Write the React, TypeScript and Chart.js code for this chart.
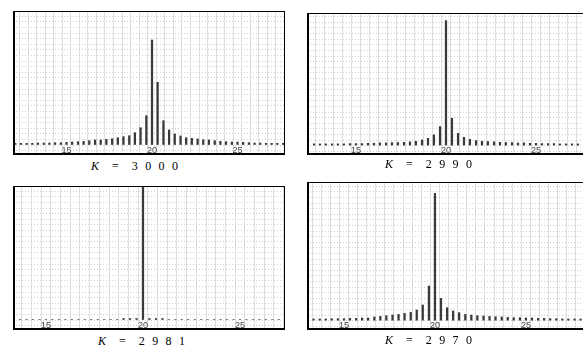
import React, { useEffect, useRef } from 'react';
import { Chart, registerables } from 'chart.js';

Chart.register(...registerables);

// harmonic positions (x axis values)
const positions = [
  12, 12.33, 12.67, 13, 13.33, 13.67, 14, 14.33, 14.67, 15, 15.33, 15.67,
  16, 16.33, 16.67, 17, 17.33, 17.67, 18, 18.33, 18.67, 19, 19.33, 19.67,
  20,
  20.33, 20.67, 21, 21.33, 21.67, 22, 22.33, 22.67, 23, 23.33, 23.67, 24,
  24.33, 24.67, 25, 25.33, 25.67, 26, 26.33, 26.67, 27, 27.33, 27.67, 28,
];

const ampK3000 = [
  1.7, 1.7, 1.7, 1.7, 2, 2, 2, 2.3, 2.3, 2.7, 3, 3.3,
  3.7, 4.3, 5, 5, 5.7, 6.3, 7.3, 8.3, 9.3, 12.3, 17.3, 29.3,
  105,
  62.7, 24.3, 15, 11, 9, 7.3, 6.7, 6, 5.3, 5, 4.3, 3.7,
  3.3, 3, 3, 2.7, 2.3, 2, 2, 1.7, 1.7, 1.7, 1.7, 1.7,
];

const ampK2990 = [
  1.7, 1.7, 1.7, 1.7, 1.7, 1.7, 1.7, 1.7, 2, 2, 2, 2.3,
  2.3, 2.7, 2.7, 3, 3, 3.3, 3.7, 4.3, 5.7, 7.3, 10.7, 19,
  125,
  27.3, 12.3, 8.3, 6.3, 5, 4.3, 4, 3.7, 3.3, 3, 3, 2.7,
  2.7, 2.3, 2.3, 2, 2, 2, 1.7, 1.7, 1.7, 1.7, 1.7, 1.7,
];

const ampK2981 = [
  0.5, 0.5, 0.5, 0.5, 0.5, 0.5, 0.5, 0.5, 0.5, 0.5, 0.5, 0.5,
  0.5, 0.5, 0.5, 0.5, 0.5, 0.5, 0.5, 0.5, 0.5, 1.5, 1.5, 1.5,
  134,
  1.5, 1.5, 1.5, 0.5, 0.5, 0.5, 0.5, 0.5, 0.5, 0.5, 0.5, 0.5,
  0.5, 0.5, 0.5, 0.5, 0.5, 0.5, 0.5, 0.5, 0.5, 0.5, 0.5, 0.5,
];

const ampK2970 = [
  1.7, 1.7, 1.7, 1.7, 1.7, 1.7, 1.7, 2, 2, 2, 2.3, 2.3,
  2.7, 2.7, 3.7, 4.3, 5, 5.7, 6.3, 7.3, 8.3, 10.7, 15.7, 34.7,
  127.3,
  22.3, 13, 9.7, 8, 6.3, 5.7, 5, 4.7, 4.3, 4, 3.7, 3.3,
  3, 3, 2.7, 2.7, 2.3, 2.3, 2, 2, 1.7, 1.7, 1.7, 1.7,
];

const tickLabels = [15, 20, 25];
const kLabels = ['3 0 0 0', '2 9 9 0', '2 9 8 1', '2 9 7 0'];

type Panel = {
  values: number[];
  k: string;
  left: number; top: number; width: number; height: number;
  xMin: number; xMax: number; yMin: number; yMax: number;
  capLeft: number; capTop: number;
};

const panels: Panel[] = [
  { values: ampK3000, k: kLabels[0], left: 13, top: 11, width: 272, height: 144, xMin: 11.87, xMax: 27.78, yMin: -10, yMax: 134, capLeft: 91, capTop: 158 },
  { values: ampK2990, k: kLabels[1], left: 307, top: 13, width: 283, height: 142, xMin: 12.28, xMax: 28.0, yMin: -9.4, yMax: 132.6, capLeft: 385, capTop: 156 },
  { values: ampK2981, k: kLabels[2], left: 13, top: 186, width: 272, height: 144, xMin: 13.3, xMax: 27.32, yMin: -10, yMax: 134, capLeft: 98, capTop: 333 },
  { values: ampK2970, k: kLabels[3], left: 307, top: 182, width: 283, height: 148, xMin: 12.97, xMax: 28.52, yMin: -9.3, yMax: 138.7, capLeft: 385, capTop: 332 },
];

const PAD = 2;

const framePlugin = {
  id: 'frame',
  afterDraw(chart: any) {
    const { ctx, chartArea: a } = chart;
    ctx.save();
    ctx.strokeStyle = '#000';
    ctx.lineWidth = 1;
    ctx.beginPath();
    ctx.moveTo(a.left, a.top + 0.5);
    ctx.lineTo(a.right, a.top + 0.5);
    ctx.moveTo(a.right - 0.5, a.top);
    ctx.lineTo(a.right - 0.5, a.bottom);
    ctx.stroke();
    ctx.lineWidth = 2;
    ctx.beginPath();
    ctx.moveTo(a.left + 1, a.top);
    ctx.lineTo(a.left + 1, a.bottom);
    ctx.moveTo(a.left, a.bottom - 1);
    ctx.lineTo(a.right, a.bottom - 1);
    ctx.stroke();
    ctx.restore();
  },
};

function SpectrumPanel({ p }: { p: Panel }) {
  const ref = useRef<HTMLCanvasElement | null>(null);
  useEffect(() => {
    if (!ref.current) return;
    const chart = new Chart(ref.current, {
      type: 'bar',
      data: {
        datasets: [
          {
            data: positions.map((x, i) => ({ x, y: p.values[i] })),
            backgroundColor: '#3a3a3a',
            borderWidth: 0,
            barThickness: 1.6,
          },
        ],
      },
      options: {
        animation: false,
        responsive: false,
        maintainAspectRatio: false,
        layout: { padding: { left: PAD, right: PAD, top: PAD, bottom: PAD } },
        plugins: {
          legend: { display: false },
          tooltip: { enabled: false },
        },
        scales: {
          x: {
            type: 'linear',
            min: p.xMin,
            max: p.xMax,
            offset: false,
            grid: { color: '#dedede', lineWidth: 1, drawTicks: false },
            border: { display: false },
            ticks: {
              stepSize: 0.5,
              includeBounds: false,
              autoSkip: false,
              maxRotation: 0,
              minRotation: 0,
              padding: -10,
              color: '#444',
              font: { family: 'Liberation Sans', size: 9 },
              callback: (v: any) => {
                const n = Number(v);
                const hit = tickLabels.find((t) => Math.abs(t - n) < 1e-6);
                return hit !== undefined ? String(hit) : '';
              },
            },
          },
          y: {
            type: 'linear',
            min: p.yMin,
            max: p.yMax,
            grid: { color: '#cfcfcf', lineWidth: 1, drawTicks: false },
            border: { display: false, dash: [1, 2] },
            ticks: { display: false, stepSize: 5.6, includeBounds: false },
          },
        },
      },
      plugins: [framePlugin],
    });
    return () => chart.destroy();
  }, [p]);
  return (
    <canvas
      ref={ref}
      width={p.width + PAD * 2}
      height={p.height + PAD * 2}
      style={{ position: 'absolute', left: p.left - PAD, top: p.top - PAD, width: p.width + PAD * 2, height: p.height + PAD * 2 }}
    />
  );
}

function Caption({ p }: { p: Panel }) {
  return (
    <div
      style={{
        position: 'absolute',
        left: p.capLeft,
        top: p.capTop,
        fontFamily: '"Liberation Serif", serif',
        fontSize: 12,
        lineHeight: '16px',
        whiteSpace: 'pre',
        color: '#000',
      }}
    >
      <i>K</i>
      <span style={{ marginLeft: 13 }}>=</span>
      <span style={{ marginLeft: 13, letterSpacing: 2.2 }}>{p.k}</span>
    </div>
  );
}

export default function App() {
  return (
    <div style={{ position: 'fixed', left: 0, top: 0, width: 583, height: 351, overflow: 'hidden', background: '#fff' }}>
      {panels.map((p, i) => (
        <React.Fragment key={i}>
          <SpectrumPanel p={p} />
          <Caption p={p} />
        </React.Fragment>
      ))}
    </div>
  );
}
